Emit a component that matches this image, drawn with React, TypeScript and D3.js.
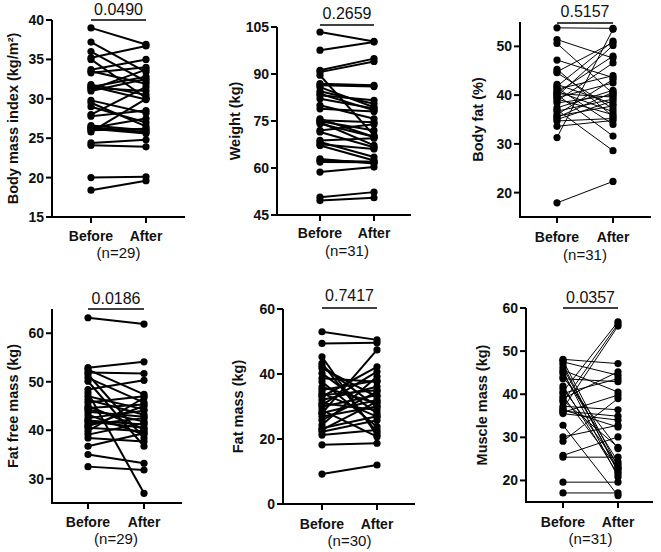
import * as d3 from "d3";

// paired values, index i = same subject before/after
const groups = ["Before", "After"];

const bmiBefore = [39.0, 37.2, 36.0, 35.2, 35.0, 33.7, 33.5, 33.3, 31.8, 31.6, 31.5, 31.4, 31.2, 31.0, 29.8, 29.5, 29.0, 28.0, 27.8, 26.6, 26.4, 26.3, 26.2, 26.0, 25.8, 24.4, 24.1, 20.0, 18.4];
const bmiAfter = [36.9, 33.4, 32.2, 36.7, 30.1, 35.0, 31.9, 34.0, 30.5, 29.9, 32.8, 31.0, 33.7, 32.5, 28.2, 26.5, 27.0, 31.5, 28.5, 26.0, 25.8, 27.5, 25.6, 26.2, 30.0, 24.8, 23.9, 20.1, 19.6];

const weightBefore = [103.4, 97.6, 91.2, 90.6, 89.6, 86.9, 86.4, 85.8, 84.5, 83.7, 83.2, 82.1, 80.0, 78.9, 75.7, 75.2, 74.9, 74.6, 74.1, 72.0, 71.5, 68.8, 68.3, 67.6, 67.2, 62.9, 62.4, 61.9, 58.7, 50.7, 49.6];
const weightAfter = [100.4, 100.2, 94.9, 94.0, 70.4, 86.4, 86.0, 79.4, 80.5, 78.4, 81.6, 79.0, 75.7, 78.0, 69.9, 74.6, 72.0, 67.2, 70.0, 74.0, 66.6, 69.5, 63.5, 66.1, 62.4, 61.4, 62.0, 61.8, 60.3, 52.3, 50.5];

const fatPctBefore = [53.8, 51.4, 50.6, 47.2, 45.3, 44.8, 44.6, 42.2, 41.8, 41.5, 41.2, 40.8, 40.5, 40.3, 40.1, 39.8, 39.5, 39.2, 38.8, 38.4, 37.4, 37.0, 36.7, 36.0, 35.7, 35.4, 35.0, 34.7, 33.6, 31.3, 17.9];
const fatPctAfter = [53.7, 47.6, 40.3, 43.6, 35.6, 50.8, 37.2, 38.2, 51.1, 34.0, 44.0, 36.6, 48.0, 39.6, 31.6, 50.2, 42.5, 36.0, 46.6, 40.0, 41.0, 28.6, 39.2, 43.2, 37.8, 40.6, 38.8, 35.2, 34.8, 53.5, 22.3];

const ffmBefore = [63.2, 52.9, 52.5, 51.9, 51.5, 50.8, 50.1, 48.4, 47.7, 47.0, 46.3, 45.7, 45.0, 44.6, 44.3, 43.8, 43.2, 42.5, 42.0, 41.8, 41.2, 40.8, 40.5, 39.8, 39.1, 38.4, 36.7, 35.0, 32.5];
const ffmAfter = [61.9, 54.1, 47.4, 51.7, 38.4, 45.7, 36.7, 50.3, 27.0, 44.3, 43.2, 47.0, 40.2, 45.3, 41.8, 42.8, 39.1, 44.0, 41.2, 40.5, 42.5, 45.0, 39.8, 46.7, 41.5, 37.7, 39.4, 33.2, 31.8];

const fmBefore = [53.0, 49.4, 45.3, 43.3, 42.5, 41.8, 40.2, 38.7, 37.6, 36.0, 35.1, 34.1, 33.5, 33.0, 32.0, 31.0, 30.5, 29.9, 28.9, 28.0, 27.9, 26.9, 25.8, 24.3, 23.3, 22.8, 22.2, 21.2, 18.2, 9.2];
const fmAfter = [50.5, 49.6, 21.2, 22.0, 29.9, 33.0, 27.9, 37.6, 23.8, 31.0, 38.0, 26.9, 35.0, 42.2, 36.1, 28.9, 40.7, 33.5, 20.7, 32.0, 47.4, 30.0, 34.6, 39.2, 27.0, 31.5, 25.8, 22.8, 18.7, 12.0];

const muscleBefore = [48.1, 47.8, 47.5, 46.9, 46.2, 45.6, 45.2, 44.8, 44.0, 43.6, 41.9, 41.3, 40.6, 40.2, 39.5, 39.0, 38.6, 38.2, 37.2, 36.7, 36.4, 36.1, 35.8, 35.5, 32.8, 30.1, 29.1, 25.8, 25.4, 19.6, 17.1];
const muscleAfter = [47.1, 23.1, 44.4, 21.9, 22.5, 40.5, 20.8, 24.3, 27.4, 42.9, 21.4, 23.7, 56.8, 43.6, 22.8, 45.2, 27.7, 56.3, 36.4, 55.8, 32.4, 34.9, 39.8, 34.0, 16.5, 32.8, 39.0, 30.1, 25.4, 19.6, 17.1];

const titles = ["Body mass index (kg/m²)", "Weight (kg)", "Body fat (%)", "Fat free mass (kg)", "Fat mass (kg)", "Muscle mass (kg)"];
const pValues = ["0.0490", "0.2659", "0.5157", "0.0186", "0.7417", "0.0357"];
const nLabels = ["(n=29)", "(n=31)", "(n=31)", "(n=29)", "(n=30)", "(n=31)"];
const tickSets = [
  [15, 20, 25, 30, 35, 40],
  [45, 60, 75, 90, 105],
  [20, 30, 40, 50],
  [30, 40, 50, 60],
  [0, 20, 40, 60],
  [20, 30, 40, 50, 60],
];

// layout per panel (pixels)
const layouts = [
  { domain: [15, 40], axisX: 52, yTop: 20, yBot: 217, xEnd: 185, bx: 91, ax: 146, pY: 15, barY: 20, titleX: 13, catY: 241, nY: 258, sw: 2 },
  { domain: [45, 105], axisX: 277, yTop: 27, yBot: 215, xEnd: 411, bx: 320, ax: 374, pY: 19, barY: 25, titleX: 235, catY: 238, nY: 256, sw: 2 },
  { domain: [15, 55], axisX: 520, yTop: 22, yBot: 217, xEnd: 651, bx: 557, ax: 613, pY: 17, barY: 23, titleX: 478, catY: 242, nY: 260, sw: 1 },
  { domain: [25, 65], axisX: 52, yTop: 309, yBot: 503, xEnd: 182, bx: 88, ax: 144, pY: 304, barY: 309, titleX: 13, catY: 527, nY: 544, sw: 2 },
  { domain: [0, 60], axisX: 283, yTop: 309, yBot: 504, xEnd: 415, bx: 322, ax: 377, pY: 301, barY: 308, titleX: 238, catY: 529, nY: 546, sw: 2 },
  { domain: [15, 60], axisX: 526, yTop: 308, yBot: 502, xEnd: 653, bx: 563, ax: 618, pY: 303, barY: 308, titleX: 482, catY: 527, nY: 544, sw: 1 },
];

const series = [
  [bmiBefore, bmiAfter],
  [weightBefore, weightAfter],
  [fatPctBefore, fatPctAfter],
  [ffmBefore, ffmAfter],
  [fmBefore, fmAfter],
  [muscleBefore, muscleAfter],
];

const font = "'Liberation Sans', Arial, Helvetica, sans-serif";

function Panel({ idx }: { idx: number }) {
  const L = layouts[idx];
  const [before, after] = series[idx];
  const y = d3.scaleLinear().domain(L.domain).range([L.yBot, L.yTop]);
  const x = d3.scalePoint().domain(groups).range([L.bx, L.ax]);
  const xb = x("Before")!;
  const xa = x("After")!;
  const mid = (xb + xa) / 2;

  return (
    <g fontFamily={font}>
      {/* pairs */}
      {before.map((b, i) => (
        <line key={"l" + i} x1={xb} y1={y(b)} x2={xa} y2={y(after[i])} stroke="#000" strokeWidth={L.sw} />
      ))}
      {before.map((b, i) => (
        <circle key={"b" + i} cx={xb} cy={y(b)} r={3.6} fill="#000" />
      ))}
      {after.map((a, i) => (
        <circle key={"a" + i} cx={xa} cy={y(a)} r={3.6} fill="#000" />
      ))}

      {/* y axis */}
      <line x1={L.axisX} x2={L.axisX} y1={L.yTop} y2={L.yBot + 1} stroke="#000" strokeWidth={2} />
      {tickSets[idx].map((t) => (
        <g key={t}>
          <line x1={L.axisX - 6} x2={L.axisX} y1={y(t)} y2={y(t)} stroke="#000" strokeWidth={2} />
          <text x={L.axisX - 8} y={y(t)} dy="0.36em" textAnchor="end" fontSize={14} fontWeight="bold" fill="#111">
            {t}
          </text>
        </g>
      ))}
      {/* x axis */}
      <line x1={L.axisX - 1} x2={L.xEnd} y1={L.yBot} y2={L.yBot} stroke="#000" strokeWidth={2} />
      {groups.map((g) => (
        <g key={g}>
          <line x1={x(g)!} x2={x(g)!} y1={L.yBot} y2={L.yBot + 6} stroke="#000" strokeWidth={2} />
          <text x={x(g)!} y={L.catY} textAnchor="middle" fontSize={14} fontWeight="bold" fill="#111">
            {g}
          </text>
        </g>
      ))}
      <text x={mid} y={L.nY} textAnchor="middle" fontSize={15} fill="#111">
        {nLabels[idx]}
      </text>

      {/* p value */}
      <line x1={xb} x2={xa} y1={L.barY} y2={L.barY} stroke="#000" strokeWidth={1.5} />
      <text x={mid} y={L.pY} textAnchor="middle" fontSize={16} fill="#111">
        {pValues[idx]}
      </text>

      {/* title */}
      <text
        transform={`translate(${L.titleX},${(L.yTop + L.yBot) / 2}) rotate(-90)`}
        dy="0.36em"
        textAnchor="middle"
        fontSize={14.5}
        fontWeight="bold"
        fill="#111"
      >
        {titles[idx]}
      </text>
    </g>
  );
}

export default function App() {
  return (
    <svg width={661} height={552} style={{ position: "absolute", left: 0, top: 0, background: "#fff" }}>
      {layouts.map((_, i) => (
        <Panel key={i} idx={i} />
      ))}
    </svg>
  );
}
